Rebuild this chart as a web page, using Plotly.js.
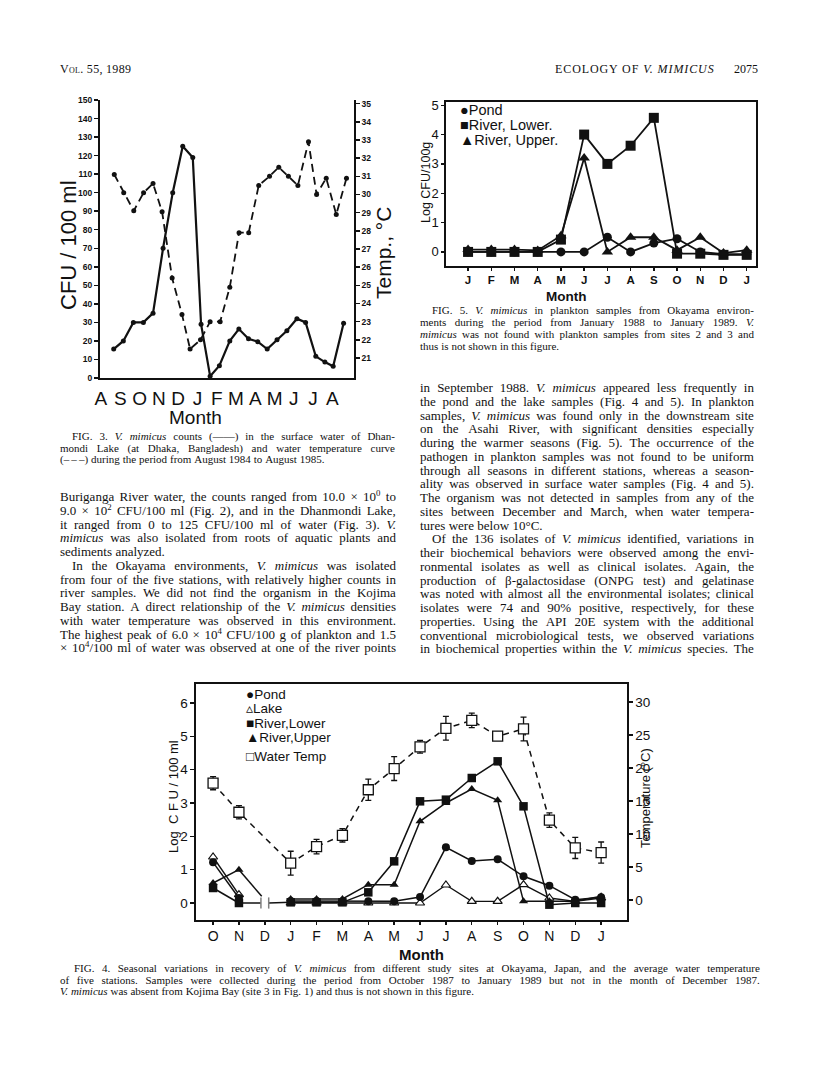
<!DOCTYPE html>
<html>
<head>
<meta charset="utf-8">
<script src="https://cdn.plot.ly/plotly-3.0.1.min.js"></script>
<style>
body { margin: 0; background: #fff; }
#page { position: relative; width: 816px; height: 1083px; overflow: hidden; background: #fff; }
#plot { position: absolute; left: 0; top: 0; width: 816px; height: 1083px; }
.blk { position: absolute; font-family: "Liberation Serif", "Times New Roman", serif; color: #111; }
.ln { display: flex; white-space: nowrap; column-gap: 0.26em; align-items: baseline; }
sup { font-size: 68%; line-height: 0; vertical-align: 0.55em; }
.hdr { position: absolute; top: 62px; font-family: "Liberation Serif", serif; font-size: 12px; color: #111; }
</style>
</head>
<body>
<div id="page">
  <div id="plot"></div>
  <div class="hdr" style="left:60px; font-variant: small-caps; letter-spacing: 0.3px;">Vol. 55, 1989</div>
  <div class="hdr" style="left:555px; letter-spacing: 0.9px;">ECOLOGY OF <i>V. MIMICUS</i></div>
  <div class="hdr" style="left:731px; width:27px; text-align:right;">2075</div>
</div>
<script>
var W = 816, H = 1083;
function fx(p) { return p / W; }
function fy(p) { return 1 - p / H; }

// ---- Fig. 3 : Dhanmondi Lake, Aug 1984 - Aug 1985 ----
var months3 = ['A', 'S', 'O', 'N', 'D', 'J', 'F', 'M', 'A', 'M', 'J', 'J', 'A'];
var countX3 = [0.66, 1.16, 1.68, 2.2, 2.7, 3.22, 3.72, 4.24, 4.76, 5.19, 5.66, 6.14, 6.68,
               7.15, 7.65, 8.13, 8.62, 9.13, 9.64, 10.16, 10.61, 11.14, 11.61, 12.04, 12.58];
var counts3 = [15.6, 20, 30, 30, 35, 70, 100, 125, 119, 29, 1, 6.6, 20,
               26.4, 21.2, 19.6, 15.6, 20.7, 25.5, 32, 30, 11.7, 8.6, 6.3, 29.5];
var tempX3 = [0.69, 1.18, 1.7, 2.21, 2.7, 3.17, 3.69, 4.2, 4.62, 5.16, 5.66, 6.18, 6.68,
              7.16, 7.66, 8.18, 8.74, 9.22, 9.72, 10.21, 10.76, 11.18, 11.68, 12.2, 12.73];
var temps3 = [31.1, 30.1, 29.1, 30.1, 30.6, 29.05, 25.4, 23.4, 21.5, 22.0, 23.0, 23.0, 24.9,
              27.9, 27.9, 30.5, 31.0, 31.5, 31.0, 30.5, 32.9, 30.0, 30.9, 28.9, 30.9];
var cfuTicks3 = [0, 10, 20, 30, 40, 50, 60, 70, 80, 90, 100, 110, 120, 130, 140, 150];
var tempTicks3 = [21, 22, 23, 24, 25, 26, 27, 28, 29, 30, 31, 32, 33, 34, 35];

// ---- Fig. 5 : plankton, Jan 1988 - Jan 1989 ----
var months5 = ['J', 'F', 'M', 'A', 'M', 'J', 'J', 'A', 'S', 'O', 'N', 'D', 'J'];
var pond5  = [0, 0, 0, 0, 0, 0, 0.5, 0, 0.3, 0.45, 0, -0.08, -0.08];
var lower5 = [0, 0, 0, 0, 0.42, 4.0, 3.0, 3.62, 4.57, -0.06, -0.06, -0.1, -0.1];
var upper5 = [0.08, 0.08, 0.08, 0.05, 0.55, 3.2, 0, 0.5, 0.5, 0.06, 0.5, -0.04, 0.06];

// ---- Fig. 4 : surface water, Oct 1987 - Jan 1989 (no sample Dec 1987) ----
var months4 = ['O', 'N', 'D', 'J', 'F', 'M', 'A', 'M', 'J', 'J', 'A', 'S', 'O', 'N', 'D', 'J'];
var pond4  = [1.22, 0.15, null, 0.06, 0.06, 0.05, 0.05, 0.05, 0.18, 1.67, 1.26, 1.31, 0.8, 0.52, 0.1, 0.17];
var lake4  = [1.38, 0.25, null, 0, 0, 0, 0, 0, 0, 0.54, 0.05, 0.05, 0.55, 0.15, 0.05, 0.15];
var lower4 = [0.45, 0, null, 0.02, 0.02, 0.02, 0.32, 1.25, 3.05, 3.1, 3.75, 4.25, 2.9, -0.05, 0, 0];
var upper4 = [0.6, 1.0, null, 0.12, 0.12, 0.12, 0.55, 0.55, 2.45, 3.0, 3.42, 3.08, 0.05, 0.05, 0.05, 0.2];
var temp4    = [17.7, 13.3, null, 5.6, 8.1, 9.8, 16.7, 19.9, 23.2, 26.0, 27.2, 24.8, 25.9, 12.1, 7.9, 7.2];
var tempErr4 = [1.0, 1.0, null, 1.8, 1.1, 1.0, 1.6, 1.8, 0.95, 1.8, 1.1, 0.6, 1.8, 1.1, 1.6, 1.6];
// line ends either side of the December 1987 gap
var upperBreakX = [1, 1.88], upperBreakY = [1.0, 0.2];
var lowerBreakX = [1, 1.85, null, 2.15, 3], lowerBreakY = [0, 0, null, 0, 0.02];
var breakTickX = [1.85, 2.15], breakTickY = [0, 0];

function idx(arr) { return arr.map(function(d, i) { return i; }); }

var ink = '#111';
var sans = 'Liberation Sans, Arial, sans-serif';

var data = [
    // Fig 3
    { x: countX3, y: counts3, xaxis: 'x', yaxis: 'y', mode: 'lines+markers',
      line: { color: ink, width: 2.2 }, marker: { color: ink, size: 5 } },
    { x: tempX3, y: temps3, xaxis: 'x', yaxis: 'y2', mode: 'lines+markers',
      line: { color: ink, width: 1.8, dash: '8px,5px' }, marker: { color: ink, size: 5 } },
    // Fig 5
    { x: idx(months5), y: pond5, xaxis: 'x2', yaxis: 'y3', mode: 'lines+markers',
      line: { color: ink, width: 1.8 }, marker: { color: ink, size: 9, symbol: 'circle' } },
    { x: idx(months5), y: lower5, xaxis: 'x2', yaxis: 'y3', mode: 'lines+markers',
      line: { color: ink, width: 1.8 }, marker: { color: ink, size: 10, symbol: 'square' } },
    { x: idx(months5), y: upper5, xaxis: 'x2', yaxis: 'y3', mode: 'lines+markers',
      line: { color: ink, width: 1.8 }, marker: { color: ink, size: 10, symbol: 'triangle-up' } },
    // Fig 4
    { x: upperBreakX, y: upperBreakY, xaxis: 'x3', yaxis: 'y4', mode: 'lines',
      line: { color: ink, width: 1.5 } },
    { x: lowerBreakX, y: lowerBreakY, xaxis: 'x3', yaxis: 'y4', mode: 'lines',
      line: { color: ink, width: 1.5 } },
    { x: breakTickX, y: breakTickY, xaxis: 'x3', yaxis: 'y4', mode: 'markers',
      marker: { symbol: 'line-ns-open', size: 8, line: { color: ink, width: 1.5 } } },
    { x: idx(months4), y: lake4, xaxis: 'x3', yaxis: 'y4', mode: 'lines+markers',
      line: { color: ink, width: 1.4 },
      marker: { symbol: 'triangle-up', size: 8, color: '#fff', line: { color: ink, width: 1.2 } } },
    { x: idx(months4), y: pond4, xaxis: 'x3', yaxis: 'y4', mode: 'lines+markers',
      line: { color: ink, width: 1.5 }, marker: { color: ink, size: 8, symbol: 'circle' } },
    { x: idx(months4), y: lower4, xaxis: 'x3', yaxis: 'y4', mode: 'lines+markers',
      line: { color: ink, width: 1.5 }, marker: { color: ink, size: 8.5, symbol: 'square' } },
    { x: idx(months4), y: upper4, xaxis: 'x3', yaxis: 'y4', mode: 'lines+markers',
      line: { color: ink, width: 1.5 }, marker: { color: ink, size: 8, symbol: 'triangle-up' } },
    { x: idx(months4), y: temp4, xaxis: 'x3', yaxis: 'y5', mode: 'lines+markers', connectgaps: true,
      line: { color: ink, width: 1.5, dash: '6px,5px' },
      marker: { symbol: 'square', size: 10, color: '#fff', line: { color: ink, width: 1.3 } },
      error_y: { type: 'data', array: tempErr4, color: ink, thickness: 1.3, width: 3 } }
];

var axBase = { showgrid: false, zeroline: false, linecolor: ink, tickcolor: ink, showline: true };
function ax(o) { return Object.assign({}, axBase, o); }

var layout = {
    width: W, height: H,
    margin: { l: 0, r: 0, t: 0, b: 0 },
    paper_bgcolor: '#fff', plot_bgcolor: 'rgba(0,0,0,0)',
    showlegend: false,
    font: { family: sans, color: ink },
    // Fig 3
    xaxis: ax({ domain: [fx(100), fx(354)], range: [-0.05, 13.12], anchor: 'y', linewidth: 2,
                tickvals: idx(months3), ticktext: months3, ticks: '', ticklabelstandoff: 2,
                tickfont: { size: 19 } }),
    yaxis: ax({ domain: [fy(378), fy(100)], range: [0, 150], anchor: 'x', linewidth: 2,
                tickvals: cfuTicks3, ticks: 'outside', ticklen: 4, tickwidth: 1.5,
                tickfont: { size: 8.5, weight: 'bold' } }),
    yaxis2: ax({ overlaying: 'y', side: 'right', anchor: 'x', range: [19.9, 35.2], linewidth: 1.8,
                 tickvals: tempTicks3, ticks: 'outside', ticklen: 4, tickwidth: 1.5,
                 tickfont: { size: 8.5, weight: 'bold' } }),
    // Fig 5
    xaxis2: ax({ domain: [fx(446), fx(756)], range: [-0.95, 12.4], anchor: 'y3', mirror: true, linewidth: 1.6,
                 tickvals: idx(months5), ticktext: months5, ticks: 'outside', ticklen: 3, tickwidth: 1.4,
                 ticklabelstandoff: 0, tickfont: { size: 11.5, weight: 'bold' } }),
    yaxis3: ax({ domain: [fy(266), fy(102)], range: [-0.48, 5.11], anchor: 'x2', mirror: true, linewidth: 1.6,
                 dtick: 1, ticks: 'outside', ticklen: 3, tickwidth: 1.4, tickfont: { size: 13 } }),
    // Fig 4
    xaxis3: ax({ domain: [fx(196), fx(627)], range: [-0.66, 16.0], anchor: 'y4', mirror: true, linewidth: 1.6,
                 tickvals: idx(months4), ticktext: months4, ticks: 'outside', ticklen: 3, tickwidth: 1.4,
                 ticklabelstandoff: 0, tickfont: { size: 14 } }),
    yaxis4: ax({ domain: [fy(920), fy(684)], range: [-0.51, 6.57], anchor: 'x3', mirror: true, linewidth: 1.6,
                 dtick: 1, ticks: 'outside', ticklen: 4, tickwidth: 1.4, tickfont: { size: 13.5 } }),
    yaxis5: ax({ overlaying: 'y4', side: 'right', anchor: 'x3', range: [-3.0, 32.7], linewidth: 1.6,
                 dtick: 5, ticks: 'outside', ticklen: 4, tickwidth: 1.4, tickfont: { size: 13.5 } }),
    annotations: []
};

function note(text, x, y, size, opts) {
    var a = { text: text, xref: 'paper', yref: 'paper', x: fx(x), y: fy(y), showarrow: false,
              font: { family: sans, size: size, color: ink }, xanchor: 'center', yanchor: 'middle' };
    layout.annotations.push(Object.assign(a, opts || {}));
}

// Fig 3 labels
note('CFU / 100 ml', 68, 245, 22, { textangle: -90 });
note('Temp., °C', 383, 253, 21, { textangle: -90 });
note('Month', 195, 417, 19);
// Fig 5 labels
note('Log CFU/100g', 426, 183, 12.5, { textangle: -90 });
note('Month', 566, 296, 13.5, { font: { family: sans, size: 13.5, color: ink, weight: 'bold' } });
note('●Pond', 458, 110, 14.5, { xanchor: 'left' });
note('■River, Lower.', 458, 125, 14.5, { xanchor: 'left' });
note('▲River, Upper.', 458, 140, 14.5, { xanchor: 'left' });
// Fig 4 labels
note('Log  C F U / 100 ml', 173, 797, 13, { textangle: -90 });
note('Temperature (°C)', 645, 798, 13, { textangle: -90 });
note('Month', 421, 954, 15, { font: { family: sans, size: 15, color: ink, weight: 'bold' } });
note('●Pond', 244, 694, 13.5, { xanchor: 'left' });
note('▵Lake', 244, 708, 13.5, { xanchor: 'left' });
note('■River,Lower', 244, 723, 13.5, { xanchor: 'left' });
note('▲River,Upper', 244, 737, 13.5, { xanchor: 'left' });
note('□Water Temp', 244, 756, 13.5, { xanchor: 'left' });

Plotly.newPlot('plot', data, layout, { staticPlot: true });

// ---- page text ----
// '>' at start = paragraph indent, '|' at end = last line of paragraph, _x_ = italic
function block(left, top, width, size, lh, indent, lines) {
    var d = document.createElement('div');
    d.className = 'blk';
    d.style.left = left + 'px';
    d.style.top = top + 'px';
    d.style.width = width + 'px';
    d.style.fontSize = size + 'px';
    document.getElementById('page').appendChild(d);
    lines.forEach(function(s) {
        var ind = s.charAt(0) === '>', end = s.charAt(s.length - 1) === '|';
        if (ind) s = s.slice(1);
        if (end) s = s.slice(0, -1);
        var l = document.createElement('div');
        l.className = 'ln';
        var w = width - (ind ? indent : 0);
        l.style.width = w + 'px';
        l.style.marginLeft = (ind ? indent : 0) + 'px';
        l.style.height = lh + 'px';
        l.style.lineHeight = lh + 'px';
        l.style.justifyContent = end ? 'flex-start' : 'space-between';
        s.split(' ').forEach(function(word) {
            var sp = document.createElement('span');
            sp.innerHTML = word.replace(/_([^_]+)_/g, '<i>$1</i>');
            l.appendChild(sp);
        });
        d.appendChild(l);
        if (l.scrollWidth > w + 0.5) {
            var k = w / l.scrollWidth;
            l.style.width = l.scrollWidth + 'px';
            l.style.transformOrigin = '0 0';
            l.style.transform = 'scaleX(' + k + ')';
        }
    });
}

block(60, 431, 335, 11, 11.7, 12, [
    '>FIG. 3. _V._ _mimicus_ counts (——) in the surface water of Dhan-',
    'mondi Lake (at Dhaka, Bangladesh) and water temperature curve',
    '(–\u2009–\u2009–) during the period from August 1984 to August 1985.|'
]);
block(60, 490, 336, 13, 13.75, 12, [
    'Buriganga River water, the counts ranged from 10.0 × 10<sup>0</sup> to',
    '9.0 × 10<sup>2</sup> CFU/100 ml (Fig. 2), and in the Dhanmondi Lake,',
    'it ranged from 0 to 125 CFU/100 ml of water (Fig. 3). _V._',
    '_mimicus_ was also isolated from roots of aquatic plants and',
    'sediments analyzed.|',
    '>In the Okayama environments, _V._ _mimicus_ was isolated',
    'from four of the five stations, with relatively higher counts in',
    'river samples. We did not find the organism in the Kojima',
    'Bay station. A direct relationship of the _V._ _mimicus_ densities',
    'with water temperature was observed in this environment.',
    'The highest peak of 6.0 × 10<sup>4</sup> CFU/100 g of plankton and 1.5',
    '× 10<sup>4</sup>/100 ml of water was observed at one of the river points'
]);
block(420, 304, 334, 11, 12, 12, [
    '>FIG. 5. _V._ _mimicus_ in plankton samples from Okayama environ-',
    'ments during the period from January 1988 to January 1989. _V._',
    '_mimicus_ was not found with plankton samples from sites 2 and 3 and',
    'thus is not shown in this figure.|'
]);
block(420, 381, 334, 13, 13.75, 12, [
    'in September 1988. _V._ _mimicus_ appeared less frequently in',
    'the pond and the lake samples (Fig. 4 and 5). In plankton',
    'samples, _V._ _mimicus_ was found only in the downstream site',
    'on the Asahi River, with significant densities especially',
    'during the warmer seasons (Fig. 5). The occurrence of the',
    'pathogen in plankton samples was not found to be uniform',
    'through all seasons in different stations, whereas a season-',
    'ality was observed in surface water samples (Fig. 4 and 5).',
    'The organism was not detected in samples from any of the',
    'sites between December and March, when water tempera-',
    'tures were below 10°C.|',
    '>Of the 136 isolates of _V._ _mimicus_ identified, variations in',
    'their biochemical behaviors were observed among the envi-',
    'ronmental isolates as well as clinical isolates. Again, the',
    'production of β-galactosidase (ONPG test) and gelatinase',
    'was noted with almost all the environmental isolates; clinical',
    'isolates were 74 and 90% positive, respectively, for these',
    'properties. Using the API 20E system with the additional',
    'conventional microbiological tests, we observed variations',
    'in biochemical properties within the _V._ _mimicus_ species. The'
]);
block(60, 963, 700, 11, 11.7, 14, [
    '>FIG. 4. Seasonal variations in recovery of _V._ _mimicus_ from different study sites at Okayama, Japan, and the average water temperature',
    'of five stations. Samples were collected during the period from October 1987 to January 1989 but not in the month of December 1987.',
    '_V._ _mimicus_ was absent from Kojima Bay (site 3 in Fig. 1) and thus is not shown in this figure.|'
]);
</script>
</body>
</html>
